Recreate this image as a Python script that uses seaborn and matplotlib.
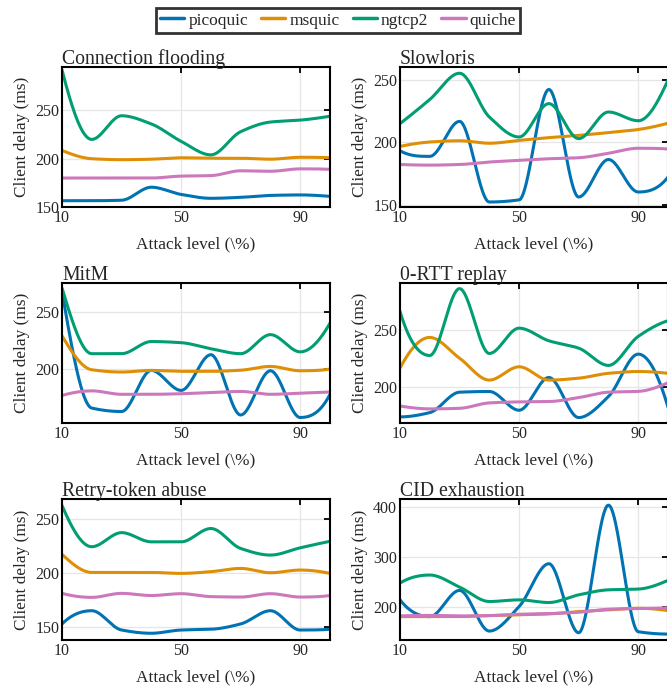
import numpy as np
import pandas as pd
import matplotlib
matplotlib.use("Agg")
import matplotlib.pyplot as plt
import seaborn as sns

# attack levels (%) and QUIC stacks
levels = [10, 20, 30, 40, 50, 60, 70, 80, 90, 100]
stacks = ["picoquic", "msquic", "ngtcp2", "quiche"]

# client delay (ms)
flood_pico = [156.5, 156.5, 157, 170.5, 163, 159, 160, 162, 162.5, 161]
flood_ms = [208.5, 200, 199, 199.5, 201, 200.5, 200.5, 199.5, 201.5, 201]
flood_ng = [292, 220, 244.5, 236, 218, 204, 228, 238, 240, 244]
flood_qu = [180, 180, 180, 180, 182, 182.5, 187.5, 187, 189.5, 189]

slow_pico = [193, 188.5, 216.5, 152, 153.7, 242, 156, 186, 160, 172]
slow_ms = [196.5, 200, 201, 199, 201.3, 203.5, 205.3, 207.5, 210, 215]
slow_ng = [214.7, 234, 255, 220, 204, 230.7, 202.7, 224, 217, 249.5]
slow_qu = [182, 181.5, 182, 184, 185.3, 186.6, 187.4, 191, 195, 194.4]

mitm_pico = [267.7, 166, 163, 198.8, 181.4, 212.5, 160, 198.5, 157.8, 178]
mitm_ms = [229, 199.4, 197.4, 198.8, 198, 198, 199, 202.3, 198.5, 200]
mitm_ng = [270.6, 213.4, 213.4, 224, 223, 217.7, 213.4, 230, 215, 240]
mitm_qu = [177, 181, 178, 178, 178.5, 179.6, 180.5, 178, 179, 180]

rtt_pico = [173.4, 177.2, 195.3, 195.9, 179.3, 208.3, 172.8, 191.4, 229, 182]
rtt_ms = [216.6, 243.8, 225.4, 206, 217.8, 206, 207.7, 212, 213.6, 212]
rtt_ng = [266.9, 227.8, 287, 229.6, 252, 240.8, 234.3, 219, 244.7, 258.6]
rtt_qu = [183, 180.5, 181, 185.8, 186.7, 187, 190.5, 195.3, 196, 203.6]

retry_pico = [152.8, 165, 147.2, 144.2, 147.2, 147.9, 152.8, 165, 147.2, 147.9]
retry_ms = [216.9, 200.3, 200.3, 200.3, 199.4, 201, 204, 200, 202.5, 199.4]
retry_ng = [262, 224, 237, 228.5, 228.5, 240.8, 222.4, 216.3, 223, 229]
retry_qu = [181, 177.3, 181, 179, 180.7, 178, 177.6, 180.7, 177.6, 179]

cid_pico = [214, 180.6, 232.8, 151.8, 200.7, 286, 148.5, 402.7, 150.5, 145.8]
cid_ms = [180.6, 180.6, 180.6, 182.6, 184, 186, 190.6, 194, 197.3, 192.6]
cid_ng = [247.5, 263.5, 239.5, 210.7, 214, 208.7, 224, 234, 235.5, 252.8]
cid_qu = [182, 183, 182, 182.6, 185.3, 186.6, 189.3, 195.3, 196.7, 198]

titles = ["Connection flooding", "Slowloris", "MitM", "0-RTT replay",
          "Retry-token abuse", "CID exhaustion"]
series = [
    [flood_pico, flood_ms, flood_ng, flood_qu],
    [slow_pico, slow_ms, slow_ng, slow_qu],
    [mitm_pico, mitm_ms, mitm_ng, mitm_qu],
    [rtt_pico, rtt_ms, rtt_ng, rtt_qu],
    [retry_pico, retry_ms, retry_ng, retry_qu],
    [cid_pico, cid_ms, cid_ng, cid_qu],
]
ylims = [(150, 295), (148, 260), (153, 275), (168, 292), (138, 268), (134, 415)]
yticks = [[150, 200, 250], [150, 200, 250], [200, 250], [200, 250],
          [150, 200, 250], [200, 300, 400]]


def pchip(x, y, xs):
    # shape preserving cubic, only used to draw the smooth curve
    x = np.asarray(x, float)
    y = np.asarray(y, float)
    h = np.diff(x)
    d = np.diff(y) / h
    m = np.zeros_like(y)
    for k in range(1, len(x) - 1):
        if d[k - 1] * d[k] > 0:
            w1 = 2 * h[k] + h[k - 1]
            w2 = h[k] + 2 * h[k - 1]
            m[k] = (w1 + w2) / (w1 / d[k - 1] + w2 / d[k])

    def end(h0, h1, d0, d1):
        mm = ((2 * h0 + h1) * d0 - h0 * d1) / (h0 + h1)
        if np.sign(mm) != np.sign(d0):
            mm = 0.0
        elif np.sign(d0) != np.sign(d1) and abs(mm) > abs(3 * d0):
            mm = 3 * d0
        return mm

    m[0] = end(h[0], h[1], d[0], d[1])
    m[-1] = end(h[-1], h[-2], d[-1], d[-2])
    i = np.clip(np.searchsorted(x, xs) - 1, 0, len(x) - 2)
    t = (xs - x[i]) / h[i]
    return ((2 * t**3 - 3 * t**2 + 1) * y[i] + (t**3 - 2 * t**2 + t) * h[i] * m[i]
            + (-2 * t**3 + 3 * t**2) * y[i + 1] + (t**3 - t**2) * h[i] * m[i + 1])


sns.set_style("white")
plt.rcParams["font.family"] = ["Liberation Serif", "DejaVu Serif"]
palette = ["#0173b2", "#de8f05", "#029e73", "#cc78bc"]

fig = plt.figure(figsize=(6.67, 6.9), dpi=100)
W, H = 667.0, 690.0
cols = [(62, 330), (400, 668)]
rows = [(67, 207), (283, 423), (499, 640)]

xs = np.linspace(10, 100, 400)
for n, title in enumerate(titles):
    (x0, x1), (y0, y1) = cols[n % 2], rows[n // 2]
    ax = fig.add_axes([x0 / W, 1 - y1 / H, (x1 - x0) / W, (y1 - y0) / H])
    frames = []
    for name, vals in zip(stacks, series[n]):
        frames.append(pd.DataFrame({"level": xs, "delay": pchip(levels, vals, xs),
                                    "stack": name}))
    df = pd.concat(frames)
    sns.lineplot(data=df, x="level", y="delay", hue="stack", hue_order=stacks,
                 palette=palette, linewidth=2.2, estimator=None, sort=False,
                 legend=(n == 0), ax=ax)
    ax.set_xlim(10, 100)
    ax.set_ylim(*ylims[n])
    ax.set_xticks([10, 50, 90])
    ax.set_yticks(yticks[n])
    ax.grid(True, color="#e6e6e6", linewidth=0.9)
    ax.tick_params(direction="in", top=True, right=True, length=4, width=1.3,
                   labelsize=11.5, pad=2, color="black")
    for s in ax.spines.values():
        s.set_linewidth(1.5)
        s.set_color("black")
    ax.set_xlabel("Attack level (\\%)", fontsize=12.4, labelpad=8)
    ax.set_ylabel("Client delay (ms)", fontsize=12.4, labelpad=4)
    ax.set_title(title, loc="left", fontsize=14.2, pad=2)
    if n == 0:
        handles, labels = ax.get_legend_handles_labels()
        ax.get_legend().remove()
        leg = fig.legend(handles, labels, loc="center", ncol=4,
                         bbox_to_anchor=(338 / W, 1 - 20.5 / H), fontsize=12.5,
                         frameon=True, fancybox=False, handlelength=1.4,
                         handletextpad=0.23, columnspacing=0.75,
                         borderpad=0.25, borderaxespad=0)
        leg.get_frame().set_edgecolor("black")
        leg.get_frame().set_linewidth(2)
        for l in leg.get_lines():
            l.set_linewidth(2.5)

fig.savefig("out.png", dpi=100)
